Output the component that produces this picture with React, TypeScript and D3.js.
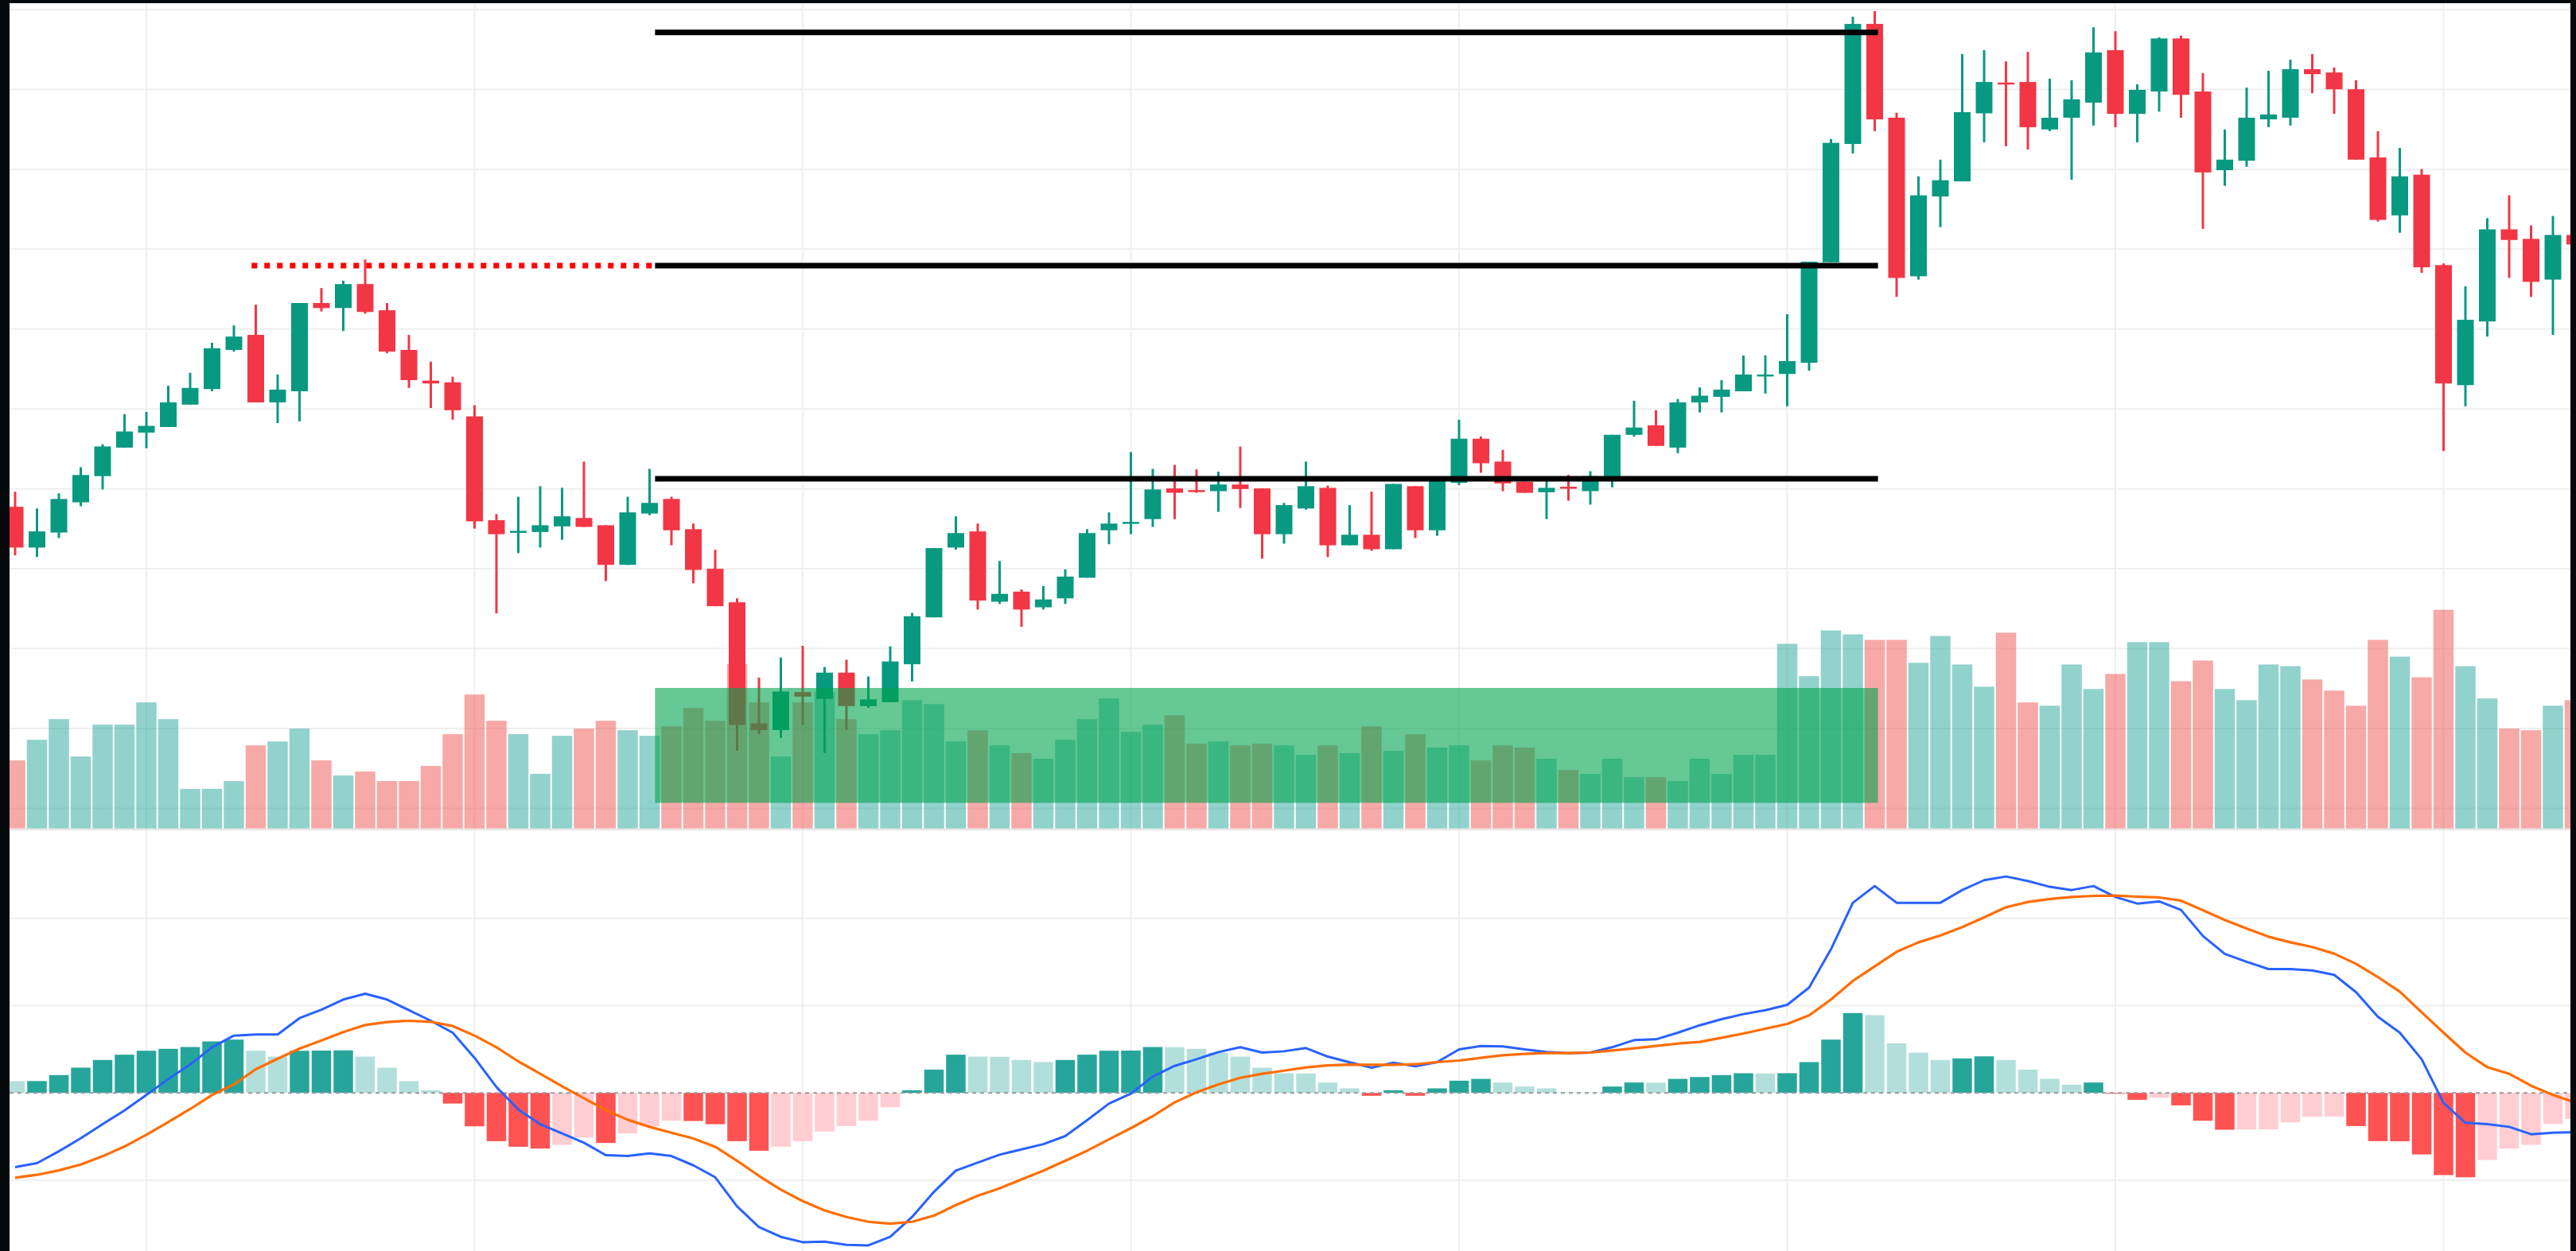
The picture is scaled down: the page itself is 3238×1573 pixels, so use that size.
import React from "react";
import * as d3 from "d3";

// price candles (bar 0 = first visible bar)
const opens = [
  137.75, 132.65, 134.53, 138.31, 141.59, 145.16, 147.04, 147.74, 150.54, 152.49,
  157.39, 159.27, 150.82, 152.21, 163.26, 162.63, 165.63, 162.35, 157.39, 153.54,
  153.33, 149.07, 136.07, 134.6, 134.6, 135.3, 136.35, 135.44, 130.48, 136.91,
  138.73, 134.95, 129.99, 125.8, 110.64, 109.8, 114.55, 113.71, 116.99, 112.8,
  113.29, 118.04, 123.91, 132.65, 134.67, 125.87, 127.13, 125.17, 126.29, 128.87,
  134.81, 135.72, 136.21, 140.05, 139.84, 139.71, 140.54, 140.05, 134.32, 137.54,
  140.12, 132.93, 134.25, 132.44, 140.33, 134.81, 140.75, 146.27, 143.41, 140.89,
  139.57, 140.26, 139.71, 141.1, 146.76, 147.95, 145.16, 150.82, 151.52, 152.21,
  154.17, 154.38, 155.78, 168.36, 183.17, 198.2, 186.46, 166.61, 176.6, 178.49,
  187.01, 190.86, 190.93, 184.99, 186.46, 188.34, 194.91, 186.94, 189.74, 196.38,
  189.74, 179.89, 181.07, 186.25, 186.46, 192.53, 192.12, 190.02, 181.49, 174.23,
  179.33, 168.01, 152.98, 160.95, 172.48, 171.29, 166.19, 171.78,
];
const closes = [
  132.65, 134.67, 138.73, 141.73, 145.3, 147.18, 147.88, 150.82, 152.63, 157.59,
  159.06, 150.82, 152.42, 163.26, 162.63, 165.63, 162.14, 157.18, 153.61, 153.19,
  149.84, 135.93, 134.32, 134.74, 135.44, 136.56, 135.23, 130.48, 137.05, 138.24,
  134.81, 129.85, 125.31, 110.43, 109.8, 114.62, 113.99, 116.99, 112.8, 113.64,
  118.39, 124.05, 132.58, 134.46, 126.01, 126.85, 124.89, 126.15, 129.01, 134.46,
  135.65, 135.86, 139.92, 139.5, 139.64, 140.54, 139.98, 134.32, 137.96, 140.33,
  132.93, 134.25, 132.44, 140.61, 134.81, 140.96, 146.27, 143.2, 140.68, 139.5,
  140.12, 140.05, 141.59, 146.76, 147.67, 145.37, 150.82, 151.66, 152.42, 154.31,
  154.31, 155.99, 168.43, 183.31, 198.2, 186.25, 166.4, 176.74, 178.63, 187.15,
  190.93, 190.72, 185.27, 186.46, 188.76, 194.63, 186.94, 189.95, 196.38, 189.32,
  179.61, 181.21, 186.46, 186.87, 192.53, 191.91, 190.02, 181.21, 173.67, 179.12,
  167.73, 153.19, 161.16, 172.48, 171.15, 165.91, 171.78, 170.59,
];
const highs = [
  139.64, 137.54, 139.43, 142.71, 145.58, 149.35, 149.63, 152.91, 154.52, 158.29,
  160.46, 163.05, 154.31, 163.26, 165.14, 166.05, 168.71, 163.26, 159.27, 155.92,
  154.03, 150.47, 136.84, 139.01, 140.33, 140.12, 143.41, 135.44, 139.01, 142.5,
  139.01, 135.65, 132.37, 126.29, 116.37, 118.88, 120.35, 117.69, 118.6, 116.51,
  120.28, 124.47, 132.58, 136.56, 135.65, 130.97, 127.41, 127.83, 129.92, 134.95,
  137.05, 144.6, 142.5, 142.99, 142.43, 142.15, 145.3, 140.05, 138.24, 143.41,
  140.4, 137.96, 139.64, 140.61, 140.33, 140.96, 148.65, 146.55, 144.88, 140.89,
  140.96, 141.73, 142.2, 146.76, 151.03, 149.84, 151.24, 152.7, 153.61, 156.69,
  156.69, 161.86, 168.43, 183.8, 199.1, 199.8, 187.08, 179.12, 181.21, 194.42,
  194.91, 193.51, 194.7, 191.35, 191.14, 197.78, 197.29, 190.65, 196.52, 196.73,
  192.05, 184.99, 190.23, 192.33, 193.72, 194.42, 192.74, 191.14, 184.78, 182.68,
  180.03, 168.22, 165.35, 173.88, 176.74, 172.97, 174.16, 172.2,
];
const lows = [
  131.67, 131.46, 133.84, 137.82, 139.92, 145.16, 145.09, 147.74, 150.54, 152.21,
  157.18, 150.82, 148.23, 148.44, 162.21, 159.76, 161.93, 156.97, 152.63, 150.12,
  148.65, 135.02, 124.4, 131.95, 132.65, 133.62, 135.23, 128.45, 130.48, 136.7,
  132.93, 128.18, 125.31, 107.21, 109.31, 108.82, 110.43, 106.93, 109.8, 112.59,
  113.29, 115.88, 123.91, 132.37, 124.89, 125.59, 122.72, 124.89, 125.59, 128.87,
  133.07, 134.32, 135.23, 136.21, 139.5, 137.12, 137.61, 131.25, 133.14, 137.4,
  131.46, 132.93, 132.23, 132.44, 133.84, 134.12, 140.47, 142.01, 139.71, 139.5,
  136.21, 138.52, 138.03, 140.19, 146.55, 145.37, 144.46, 149.56, 149.56, 152.21,
  151.93, 150.33, 154.8, 168.36, 181.98, 184.78, 164.02, 166.19, 172.76, 178.49,
  183.38, 182.89, 182.47, 184.78, 178.7, 185.48, 185.27, 183.38, 187.22, 186.46,
  172.55, 177.93, 180.31, 185.27, 185.48, 189.53, 186.94, 181.21, 173.46, 172.06,
  167.03, 144.74, 150.33, 159.06, 166.4, 164.02, 159.27, 170.1,
];
const volumes = [
  85.6, 111.5, 137.5, 90.5, 130.5, 130.5, 158.5, 137.5, 49.8, 49.8,
  59.6, 104.5, 109.4, 125.6, 85.6, 66.6, 71.6, 59.6, 59.6, 78.6,
  118.6, 168.4, 135.4, 118.6, 68.7, 116.5, 125.6, 135.4, 123.5, 116.5,
  128.4, 151.5, 135.4, 206.9, 158.5, 90.5, 158.5, 171.9, 137.5, 118.6,
  123.5, 161.3, 156.4, 109.4, 123.5, 104.5, 94.7, 87.7, 111.5, 137.5,
  163.5, 121.4, 130.5, 142.4, 106.6, 109.4, 104.5, 106.6, 104.5, 92.6,
  104.5, 94.7, 128.4, 97.5, 118.6, 101.7, 104.5, 85.6, 104.5, 101.7,
  87.7, 73.7, 68.7, 87.7, 64.5, 64.5, 59.6, 87.7, 68.7, 92.6,
  92.6, 232.2, 191.5, 249.0, 244.1, 237.1, 237.1, 208.3, 242.0, 206.2,
  178.2, 246.2, 158.5, 154.3, 206.2, 175.4, 194.3, 234.3, 234.3, 185.2,
  211.2, 175.4, 161.3, 206.2, 204.1, 187.3, 173.3, 154.3, 237.1, 216.1,
  190.1, 275.0, 204.1, 163.5, 125.6, 123.5, 154.3, 161.3,
];

// MACD pane
const macdLine = [
  -0.851, -0.805, -0.669, -0.52, -0.359, -0.201, -0.024, 0.158, 0.325, 0.523,
  0.657, 0.669, 0.669, 0.857, 0.954, 1.07, 1.137, 1.07, 0.948, 0.827,
  0.69, 0.401, 0.067, -0.191, -0.359, -0.465, -0.571, -0.714, -0.723, -0.693,
  -0.723, -0.83, -0.967, -1.301, -1.538, -1.65, -1.711, -1.705, -1.742, -1.748,
  -1.65, -1.422, -1.134, -0.891, -0.799, -0.708, -0.647, -0.587, -0.495, -0.313,
  -0.122, -0.009, 0.188, 0.31, 0.386, 0.468, 0.523, 0.462, 0.477, 0.514,
  0.416, 0.35, 0.289, 0.347, 0.304, 0.353, 0.498, 0.538, 0.532, 0.498,
  0.468, 0.456, 0.462, 0.523, 0.605, 0.614, 0.69, 0.775, 0.845, 0.903,
  0.948, 1.009, 1.207, 1.647, 2.179, 2.371, 2.179, 2.179, 2.179, 2.325,
  2.438, 2.48, 2.429, 2.362, 2.325, 2.371, 2.246, 2.17, 2.195, 2.097,
  1.799, 1.593, 1.502, 1.419, 1.419, 1.404, 1.353, 1.155, 0.872, 0.69,
  0.386, -0.116, -0.343, -0.359, -0.389, -0.474, -0.456, -0.45,
];
const signalLine = [
  -0.973, -0.939, -0.888, -0.821, -0.726, -0.614, -0.48, -0.334, -0.185, -0.024,
  0.097, 0.271, 0.392, 0.508, 0.602, 0.696, 0.778, 0.812, 0.827, 0.815,
  0.766, 0.657, 0.523, 0.362, 0.219, 0.076, -0.061, -0.198, -0.307, -0.389,
  -0.456, -0.523, -0.617, -0.778, -0.951, -1.109, -1.24, -1.347, -1.422, -1.477,
  -1.498, -1.477, -1.407, -1.286, -1.179, -1.094, -0.991, -0.891, -0.778, -0.663,
  -0.532, -0.404, -0.267, -0.109, 0.006, 0.097, 0.173, 0.219, 0.255, 0.292,
  0.316, 0.325, 0.322, 0.322, 0.328, 0.353, 0.371, 0.401, 0.432, 0.447,
  0.456, 0.456, 0.462, 0.486, 0.511, 0.538, 0.565, 0.584, 0.632, 0.681,
  0.736, 0.79, 0.888, 1.07, 1.283, 1.45, 1.617, 1.726, 1.805, 1.9,
  2.012, 2.128, 2.188, 2.222, 2.246, 2.258, 2.261, 2.249, 2.24, 2.204,
  2.094, 1.982, 1.884, 1.79, 1.726, 1.672, 1.596, 1.48, 1.328, 1.161,
  0.924, 0.69, 0.462, 0.295, 0.219, 0.082, -0.024, -0.109,
];
const histogram = [
  0.134, 0.136, 0.204, 0.289, 0.377, 0.438, 0.483, 0.505, 0.526, 0.59,
  0.611, 0.483, 0.416, 0.483, 0.485, 0.487, 0.416, 0.289, 0.134, 0.03,
  -0.122, -0.383, -0.553, -0.617, -0.638, -0.596, -0.511, -0.574, -0.465, -0.38,
  -0.319, -0.322, -0.359, -0.553, -0.663, -0.617, -0.553, -0.444, -0.38, -0.319,
  -0.164, 0.03, 0.267, 0.438, 0.416, 0.414, 0.377, 0.353, 0.377, 0.438,
  0.483, 0.485, 0.526, 0.524, 0.505, 0.462, 0.416, 0.289, 0.225, 0.222,
  0.119, 0.052, -0.033, 0.03, -0.033, 0.052, 0.14, 0.161, 0.119, 0.073,
  0.052, 0.006, 0.005, 0.073, 0.119, 0.117, 0.161, 0.182, 0.204, 0.225,
  0.223, 0.226, 0.353, 0.611, 0.915, 0.891, 0.568, 0.462, 0.377, 0.395,
  0.419, 0.377, 0.267, 0.161, 0.094, 0.119, -0.009, -0.079, -0.055, -0.143,
  -0.319, -0.422, -0.42, -0.418, -0.337, -0.274, -0.272, -0.38, -0.553, -0.555,
  -0.705, -0.942, -0.967, -0.769, -0.638, -0.596, -0.356, -0.3,
];
const histBefore = 0.16; // bar just left of the view

// drawings (bar index anchors + price levels)
const blackLevels = [197.13, 167.94, 141.26];
const drawFrom = 29.25;
const drawTo = 85.15;
const dottedFrom = 10.81;
const dottedLevel = 167.94;
const zoneTop = 115.07;
const zoneBottom = 100.69;

const priceTicks = d3.range(100, 201, 10);
const macdTicks = [-1, 1, 2];
const timeTicks = d3.range(6, 118, 15);

const W = 3238;
const H = 1573;
const UP = "#089981";
const DOWN = "#F23645";

export default function App() {
  const n = closes.length;
  const x = d3.scaleLinear().domain([0, 117]).range([19, 3236.5]);
  const step = x(1) - x(0);
  const yPrice = d3.scaleLinear().domain([100, 200]).range([1016.4, 12]);
  const yVol = d3.scaleLinear().domain([0, 300]).range([1041.7, 741.7]);
  const yMacd = d3.scaleLinear().domain([-1, 2]).range([1483.9, 1154.8]);

  const line = d3
    .line<number>()
    .x((_, i) => x(i))
    .y((v) => yMacd(v));

  const histColor = (i: number) => {
    const v = histogram[i];
    const prev = i === 0 ? histBefore : histogram[i - 1];
    if (v >= 0) return prev < v ? "#26A69A" : "#B2DFDB";
    return prev < v ? "#FFCDD2" : "#FF5252";
  };

  const bodyW = 21;
  const volW = step - 2;
  const histW = step - 3;

  return (
    <div style={{ position: "absolute", left: 0, top: 0, width: W, height: H, overflow: "hidden", background: "#fff" }}>
      <svg width={W} height={H} style={{ display: "block" }}>
        <defs>
          <clipPath id="pricePane">
            <rect x={12} y={4} width={3219} height={1039} />
          </clipPath>
          <clipPath id="macdPane">
            <rect x={12} y={1044} width={3219} height={H - 1044} />
          </clipPath>
        </defs>
        <rect x={0} y={0} width={W} height={H} fill="#fff" />

        {/* grid */}
        <g stroke="#efefef" strokeWidth={2}>
          {priceTicks.map((p) => (
            <line key={"p" + p} x1={12} x2={3231} y1={yPrice(p)} y2={yPrice(p)} />
          ))}
          {macdTicks.map((m) => (
            <line key={"m" + m} x1={12} x2={3231} y1={yMacd(m)} y2={yMacd(m)} />
          ))}
          {timeTicks.map((t) => (
            <line key={"t" + t} x1={x(t)} x2={x(t)} y1={4} y2={H} />
          ))}
        </g>
        <line x1={12} x2={3231} y1={1043} y2={1043} stroke="#e6e6e6" strokeWidth={2} />

        <g clipPath="url(#pricePane)">
          {/* volume */}
          {volumes.map((v, i) => (
            <rect
              key={"v" + i}
              x={x(i) - volW / 2}
              y={yVol(v)}
              width={volW}
              height={yVol(0) - yVol(v)}
              fill={closes[i] >= opens[i] ? "rgba(38,166,154,0.5)" : "rgba(239,83,80,0.5)"}
            />
          ))}
          {/* candles */}
          {d3.range(n).map((i) => {
            const up = closes[i] >= opens[i];
            const c = up ? UP : DOWN;
            const yTop = yPrice(Math.max(opens[i], closes[i]));
            const yBot = yPrice(Math.min(opens[i], closes[i]));
            return (
              <g key={"c" + i}>
                <line x1={x(i)} x2={x(i)} y1={yPrice(highs[i])} y2={yPrice(lows[i])} stroke={c} strokeWidth={3} />
                <rect x={x(i) - bodyW / 2} y={yTop} width={bodyW} height={Math.max(2.5, yBot - yTop)} fill={c} />
              </g>
            );
          })}
          {/* drawings */}
          <rect
            x={x(drawFrom)}
            y={yPrice(zoneTop)}
            width={x(drawTo) - x(drawFrom)}
            height={yPrice(zoneBottom) - yPrice(zoneTop)}
            fill="rgb(0,163,77)"
            fillOpacity={0.6}
          />
          <line
            x1={x(dottedFrom)}
            x2={x(drawFrom)}
            y1={yPrice(dottedLevel)}
            y2={yPrice(dottedLevel)}
            stroke="#ff0000"
            strokeWidth={7}
            strokeDasharray="7 9"
          />
          {blackLevels.map((p) => (
            <line key={"b" + p} x1={x(drawFrom)} x2={x(drawTo)} y1={yPrice(p)} y2={yPrice(p)} stroke="#000" strokeWidth={7} />
          ))}
        </g>

        <g clipPath="url(#macdPane)">
          {histogram.map((v, i) => (
            <rect
              key={"h" + i}
              x={x(i) - histW / 2}
              y={Math.min(yMacd(v), yMacd(0))}
              width={histW}
              height={Math.abs(yMacd(v) - yMacd(0))}
              fill={histColor(i)}
            />
          ))}
          <line x1={12} x2={3231} y1={yMacd(0)} y2={yMacd(0)} stroke="#9a9a9a" strokeWidth={2} strokeDasharray="5 5" />
          <path d={line(macdLine) ?? ""} fill="none" stroke="#2962FF" strokeWidth={3} strokeLinejoin="round" />
          <path d={line(signalLine) ?? ""} fill="none" stroke="#FF6D00" strokeWidth={3.2} strokeLinejoin="round" />
        </g>

        {/* screenshot frame */}
        <rect x={0} y={0} width={12} height={H} fill="#05090c" />
        <rect x={0} y={0} width={W} height={4} fill="#05090c" />
        <rect x={3231} y={0} width={W - 3231} height={H} fill="#05090c" />
      </svg>
    </div>
  );
}
